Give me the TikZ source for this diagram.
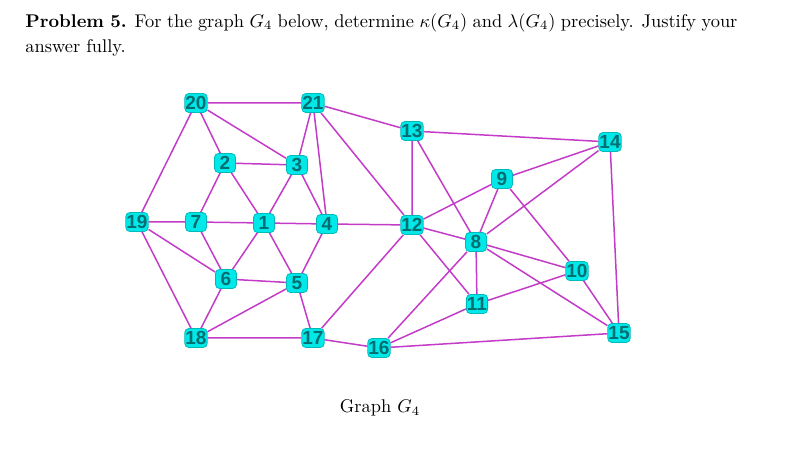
\documentclass[tikz,border=0pt]{standalone}
\usepackage{amsmath,amssymb}
\usepackage{fontspec}
\newfontfamily\vtxfont{Liberation Sans}
\usepackage{tikz}
\usetikzlibrary{positioning}
\definecolor{vfill}{RGB}{0, 232, 232}
\definecolor{vline}{RGB}{0, 185, 185}
\definecolor{vtext}{RGB}{0, 110, 115}
\definecolor{ecol}{RGB}{195, 60, 200}

\begin{document}
\begin{tikzpicture}[
    x=0.5pt, y=-0.5pt,
    vtx/.style={rectangle, draw=vline, fill=vfill, rounded corners=2pt, line width=0.4pt, minimum width=10.5pt, minimum height=9.5pt, inner sep=0.3pt, font=\vtxfont\bfseries\fontsize{9.5}{10}\selectfont, text=vtext},
    edge/.style={draw=ecol, line width=0.75pt},
    txt/.style={inner sep=0pt, scale=0.92, transform shape, font=\fontsize{10}{13.5}\selectfont}
]
    \useasboundingbox (0,0) rectangle (794,460);

    % Text
    \node[txt, anchor=north west, text width=387pt, align=justify] (prob) at (25,13)
        {\textbf{Problem 5.} For the graph $G_4$ below, determine $\kappa(G_4)$ and $\lambda(G_4)$ precisely. Justify your answer fully.};
    \node[txt] (cap) at (380,408) {Graph $G_4$};

    % Nodes
    \node[vtx] (v20) at (196,103) {20};
    \node[vtx] (v21) at (313,103) {21};
    \node[vtx] (v2) at (225,163) {2};
    \node[vtx] (v3) at (297,165) {3};
    \node[vtx] (v19) at (137,222) {19};
    \node[vtx] (v7) at (196,222) {7};
    \node[vtx] (v1) at (264,223) {1};
    \node[vtx] (v4) at (327,224) {4};
    \node[vtx] (v6) at (226,279) {6};
    \node[vtx] (v5) at (297,283) {5};
    \node[vtx] (v18) at (196,338) {18};
    \node[vtx] (v17) at (313,338) {17};
    \node[vtx] (v13) at (412,131) {13};
    \node[vtx] (v14) at (610,142) {14};
    \node[vtx] (v9) at (502,179) {9};
    \node[vtx] (v12) at (412,225) {12};
    \node[vtx] (v8) at (476,242) {8};
    \node[vtx] (v10) at (577,271) {10};
    \node[vtx] (v11) at (477,304) {11};
    \node[vtx] (v15) at (619,333) {15};
    \node[vtx] (v16) at (379,348) {16};

    % Edges
    \draw[edge] (v20) -- (v21) (v20) -- (v2) (v20) -- (v3) (v20) -- (v19);
    \draw[edge] (v21) -- (v3) (v21) -- (v4) (v21) -- (v13) (v21) -- (v12);
    \draw[edge] (v2) -- (v3) (v2) -- (v7) (v2) -- (v1);
    \draw[edge] (v3) -- (v1) (v3) -- (v4);
    \draw[edge] (v19) -- (v7) (v19) -- (v6) (v19) -- (v18);
    \draw[edge] (v7) -- (v1) (v7) -- (v6);
    \draw[edge] (v1) -- (v4) (v1) -- (v6) (v1) -- (v5);
    \draw[edge] (v4) -- (v5) (v4) -- (v12);
    \draw[edge] (v6) -- (v5) (v6) -- (v18);
    \draw[edge] (v5) -- (v18) (v5) -- (v17);
    \draw[edge] (v18) -- (v17) (v17) -- (v12) (v17) -- (v16);
    \draw[edge] (v13) -- (v14) (v13) -- (v12) (v13) -- (v8);
    \draw[edge] (v12) -- (v9) (v12) -- (v8) (v12) -- (v11);
    \draw[edge] (v9) -- (v14) (v9) -- (v8) (v9) -- (v10);
    \draw[edge] (v14) -- (v8) (v14) -- (v15);
    \draw[edge] (v8) -- (v10) (v8) -- (v11) (v8) -- (v15) (v8) -- (v16);
    \draw[edge] (v10) -- (v11) (v10) -- (v15);
    \draw[edge] (v11) -- (v16) (v16) -- (v15);
\end{tikzpicture}
\end{document}
